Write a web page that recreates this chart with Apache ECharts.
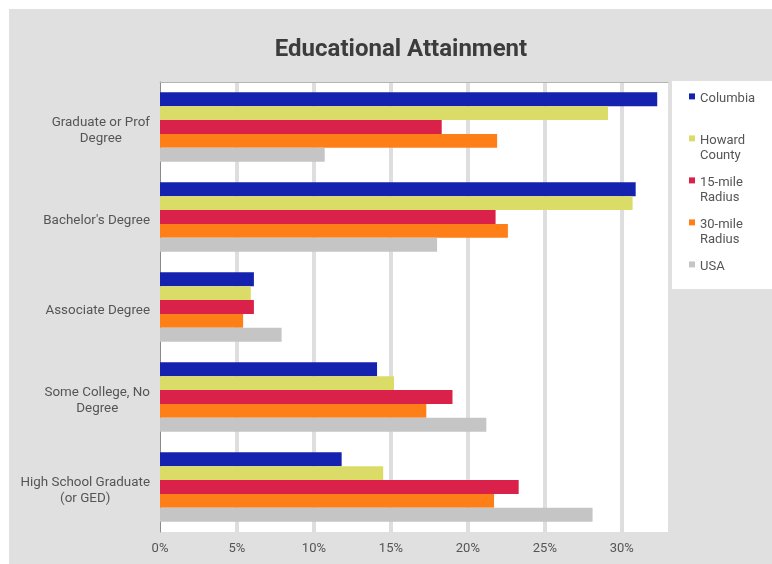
<!DOCTYPE html>
<html>
<head>
<meta charset="utf-8">
<script src="https://cdn.jsdelivr.net/npm/echarts@6/dist/echarts.min.js"></script>
<style>
html,body{margin:0;padding:0;background:#fff;}
#chart{width:772px;height:564px;}
</style>
</head>
<body>
<div id="chart"></div>
<script>
// ---- data ----
const categories = ['Graduate or Prof\nDegree', "Bachelor's Degree", 'Associate Degree', 'Some College, No\nDegree', 'High School Graduate\n(or GED)'];
const seriesNames = ['Columbia', 'Howard County', '15-mile Radius', '30-mile Radius', 'USA'];
const legendLabels = ['Columbia', 'Howard\nCounty', '15-mile\nRadius', '30-mile\nRadius', 'USA'];
const columbia = [32.3, 30.9, 6.1, 14.1, 11.8];
const howardCounty = [29.1, 30.7, 5.9, 15.2, 14.5];
const radius15 = [18.3, 21.8, 6.1, 19.0, 23.3];
const radius30 = [21.9, 22.6, 5.4, 17.3, 21.7];
const usa = [10.7, 18.0, 7.9, 21.2, 28.1];
const xTickSuffix = '%';

const values = [columbia, howardCounty, radius15, radius30, usa];
const colors = ['#1521af', '#dbdc68', '#da2149', '#fe7f18', '#c5c5c5'];
const FONT = 'Roboto';

const chart = echarts.init(document.getElementById('chart'), null, {renderer: 'canvas'});

const legendIconTops = [93.5, 135.5, 177.5, 219.5, 261.5];
const legends = seriesNames.map((name, i) => {
  const lines = legendLabels[i].split('\n');
  const spacer = lines.length > 1 ? 20 : 4;
  const blockH = spacer + lines.length * 15.5;
  const boxY = 3 - blockH / 2;
  const boundTop = Math.min(0, boxY + spacer / 2 - 0.6, boxY + spacer + 7.75 - 7.6);
  return {
    data: [name],
    orient: 'vertical',
    left: 689,
    top: legendIconTops[i] + boundTop,
    padding: 0,
    itemWidth: 6,
    itemHeight: 6,
    icon: 'rect',
    formatter: () => '{s| }\n' + lines.map(l => '{t|' + l + '}').join('\n'),
    textStyle: {
      color: '#555',
      fontFamily: FONT,
      fontSize: 13,
      rich: {
        s: {lineHeight: spacer, fontSize: 1, fontFamily: FONT},
        t: {lineHeight: 15.5, fontSize: 13, fontFamily: FONT, color: '#555'}
      }
    }
  };
});

const option = {
  backgroundColor: '#e0e0e0',
  animation: false,
  title: {
    text: 'Educational Attainment',
    left: 401,
    top: 38,
    padding: 0,
    textAlign: 'center',
    textStyle: {color: '#3c3c3c', fontFamily: FONT, fontSize: 24, fontWeight: 'bold'}
  },
  graphic: [
    {type: 'rect', left: 672, top: 81, shape: {width: 100, height: 208}, style: {fill: '#fff'}, z: 0},
    {type: 'rect', left: 0, top: 0, shape: {width: 772, height: 9}, style: {fill: '#fff'}, z: 100},
    {type: 'rect', left: 0, top: 0, shape: {width: 9, height: 564}, style: {fill: '#fff'}, z: 100}
  ],
  legend: legends,
  grid: {
    left: 160, right: 104, top: 82, bottom: 32,
    show: true, backgroundColor: '#fff', borderWidth: 0
  },
  xAxis: [{
    type: 'value',
    min: 0, max: 33, interval: 5,
    axisLine: {show: false},
    axisTick: {show: false},
    axisLabel: {
      formatter: v => v + xTickSuffix,
      color: '#555', fontFamily: FONT, fontSize: 13, margin: 10,
      showMaxLabel: false
    },
    splitLine: {show: true, showMinLine: false, showMaxLine: false, lineStyle: {color: '#dedede', width: 4}}
  }, {
    type: 'value', position: 'top',
    min: 0, max: 33,
    axisLine: {show: true, lineStyle: {color: '#b4b4b4', width: 1}},
    axisTick: {show: false}, axisLabel: {show: false}, splitLine: {show: false}
  }],
  yAxis: {
    type: 'category',
    data: categories,
    inverse: true,
    axisLine: {show: true, lineStyle: {color: '#8a8a8a', width: 1}},
    axisTick: {show: false},
    splitLine: {show: false},
    axisLabel: {
      align: 'right',
      margin: 10,
      color: '#555', fontFamily: FONT, fontSize: 13.4, lineHeight: 16,
      formatter: v => '{g| }\n' + v.split('\n').map(s => '{c|' + s + '}').join('\n'),
      rich: {
        g: {lineHeight: 7, fontSize: 6, fontFamily: FONT},
        c: {align: 'center', color: '#555', fontFamily: FONT, fontSize: 13.4, lineHeight: 16}
      }
    }
  },
  series: seriesNames.map((name, i) => ({
    name: name,
    type: 'bar',
    xAxisIndex: 0,
    data: values[i],
    barGap: '0%',
    barCategoryGap: '23%',
    itemStyle: {color: colors[i]}
  }))
};
chart.setOption(option);
</script>
</body>
</html>
